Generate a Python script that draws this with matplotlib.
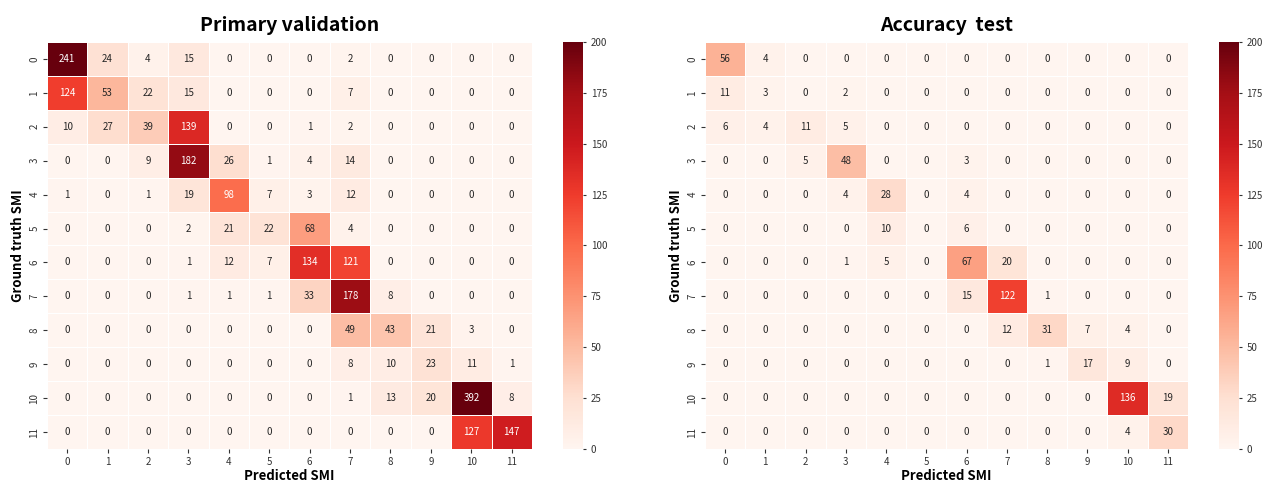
import matplotlib
matplotlib.use('Agg')
import matplotlib.pyplot as plt
import numpy as np
import seaborn as sns

plt.rcParams['font.family'] = ['Noto Sans CJK KR', 'DejaVu Sans']

labels = list(range(12))

# rows = ground truth SMI, cols = predicted SMI
primary = [
    [241, 24, 4, 15, 0, 0, 0, 2, 0, 0, 0, 0],
    [124, 53, 22, 15, 0, 0, 0, 7, 0, 0, 0, 0],
    [10, 27, 39, 139, 0, 0, 1, 2, 0, 0, 0, 0],
    [0, 0, 9, 182, 26, 1, 4, 14, 0, 0, 0, 0],
    [1, 0, 1, 19, 98, 7, 3, 12, 0, 0, 0, 0],
    [0, 0, 0, 2, 21, 22, 68, 4, 0, 0, 0, 0],
    [0, 0, 0, 1, 12, 7, 134, 121, 0, 0, 0, 0],
    [0, 0, 0, 1, 1, 1, 33, 178, 8, 0, 0, 0],
    [0, 0, 0, 0, 0, 0, 0, 49, 43, 21, 3, 0],
    [0, 0, 0, 0, 0, 0, 0, 8, 10, 23, 11, 1],
    [0, 0, 0, 0, 0, 0, 0, 1, 13, 20, 392, 8],
    [0, 0, 0, 0, 0, 0, 0, 0, 0, 0, 127, 147],
]

accuracy = [
    [56, 4, 0, 0, 0, 0, 0, 0, 0, 0, 0, 0],
    [11, 3, 0, 2, 0, 0, 0, 0, 0, 0, 0, 0],
    [6, 4, 11, 5, 0, 0, 0, 0, 0, 0, 0, 0],
    [0, 0, 5, 48, 0, 0, 3, 0, 0, 0, 0, 0],
    [0, 0, 0, 4, 28, 0, 4, 0, 0, 0, 0, 0],
    [0, 0, 0, 0, 10, 0, 6, 0, 0, 0, 0, 0],
    [0, 0, 0, 1, 5, 0, 67, 20, 0, 0, 0, 0],
    [0, 0, 0, 0, 0, 0, 15, 122, 1, 0, 0, 0],
    [0, 0, 0, 0, 0, 0, 0, 12, 31, 7, 4, 0],
    [0, 0, 0, 0, 0, 0, 0, 0, 1, 17, 9, 0],
    [0, 0, 0, 0, 0, 0, 0, 0, 0, 0, 136, 19],
    [0, 0, 0, 0, 0, 0, 0, 0, 0, 0, 4, 30],
]

fig = plt.figure(figsize=(12.72, 4.83), dpi=100)

def draw(mat, title, ax_rect, cb_rect):
    ax = fig.add_axes(ax_rect)
    cax = fig.add_axes(cb_rect)
    sns.heatmap(np.array(mat), ax=ax, cbar_ax=cax, cmap='Reds', vmin=0, vmax=200,
                annot=True, fmt='d', annot_kws={'size': 7},
                linewidths=0.5, linecolor='white',
                xticklabels=labels, yticklabels=labels)
    ax.set_title(title, fontsize=14, fontweight='bold', pad=8)
    ax.set_xlabel('Predicted SMI', fontsize=9.5, fontweight='bold', labelpad=2)
    ax.set_ylabel('Ground truth SMI', fontsize=9.5, fontweight='bold', labelpad=3)
    ax.tick_params(labelsize=7, colors='#333333', length=3, pad=2.5)
    plt.setp(ax.get_yticklabels(), rotation=90, va='center')
    plt.setp(ax.get_xticklabels(), rotation=0)
    cax.tick_params(labelsize=7, colors='#333333', length=2)
    return ax

draw(primary, 'Primary validation', [0.0369, 0.0704, 0.3813, 0.8427], [0.4426, 0.0704, 0.0157, 0.8427])
draw(accuracy, 'Accuracy  test', [0.5542, 0.0704, 0.3797, 0.8427], [0.9583, 0.0704, 0.0157, 0.8427])

plt.savefig('out.png', dpi=100)
